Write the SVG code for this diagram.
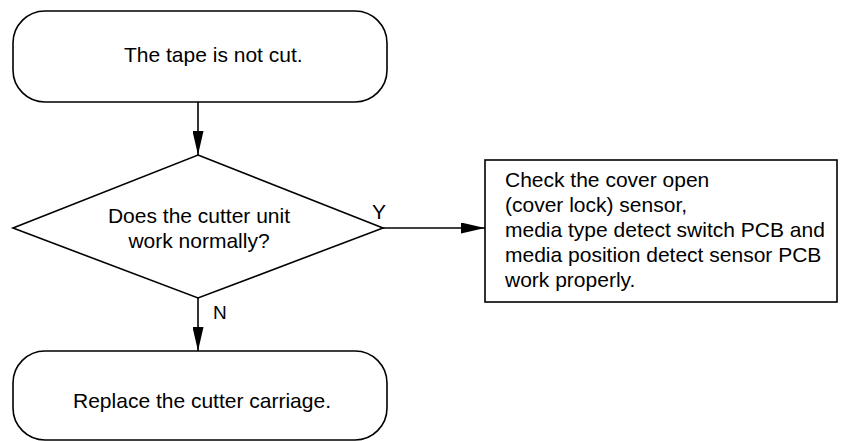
<svg xmlns="http://www.w3.org/2000/svg" width="841" height="441" viewBox="0 0 841 441">
<style>
.shape{fill:#fff;stroke:#000;stroke-width:1.6}
.t{font-family:"Liberation Sans",Arial,sans-serif;font-size:21px;fill:#000}
.c{text-anchor:middle}
.conn{stroke:#000;stroke-width:1.6;fill:none}
</style>
<defs>
<marker id="arr" viewBox="0 0 24 11" refX="24" refY="5.5" markerWidth="24" markerHeight="11" markerUnits="userSpaceOnUse" orient="auto">
<path d="M0,0 L24,5.5 L0,11 Z" fill="#000"/>
</marker>
</defs>
<rect width="841" height="441" fill="#fff"/>
<g id="start">
<rect class="shape" x="13" y="11" width="374" height="91" rx="32" ry="32"/>
<text class="t" x="124" y="62">The tape is not cut.</text>
</g>
<g id="decision">
<polygon class="shape" points="198,155 383,228 198,298 13,228"/>
<text class="t c" x="199" y="223">Does the cutter unit</text>
<text class="t c" x="199" y="248">work normally?</text>
</g>
<g id="check">
<rect class="shape" x="485" y="160" width="352" height="142"/>
<text class="t" x="505" y="187">Check the cover open</text>
<text class="t" x="505" y="212">(cover lock) sensor,</text>
<text class="t" x="505" y="237">media type detect switch PCB and</text>
<text class="t" x="505" y="262">media position detect sensor PCB</text>
<text class="t" x="505" y="287">work properly.</text>
</g>
<g id="replace">
<rect class="shape" x="13" y="351" width="374" height="89" rx="32" ry="32"/>
<text class="t c" x="202" y="408">Replace the cutter carriage.</text>
</g>
<g id="connectors">
<line class="conn" x1="198" y1="102" x2="198" y2="155" marker-end="url(#arr)"/>
<line class="conn" x1="383" y1="228" x2="485" y2="228" marker-end="url(#arr)"/>
<line class="conn" x1="198" y1="298" x2="198" y2="351" marker-end="url(#arr)"/>
<text class="t" x="372" y="219" font-size="20">Y</text>
<text class="t" x="213" y="319" style="font-size:19px">N</text>
</g>
</svg>
